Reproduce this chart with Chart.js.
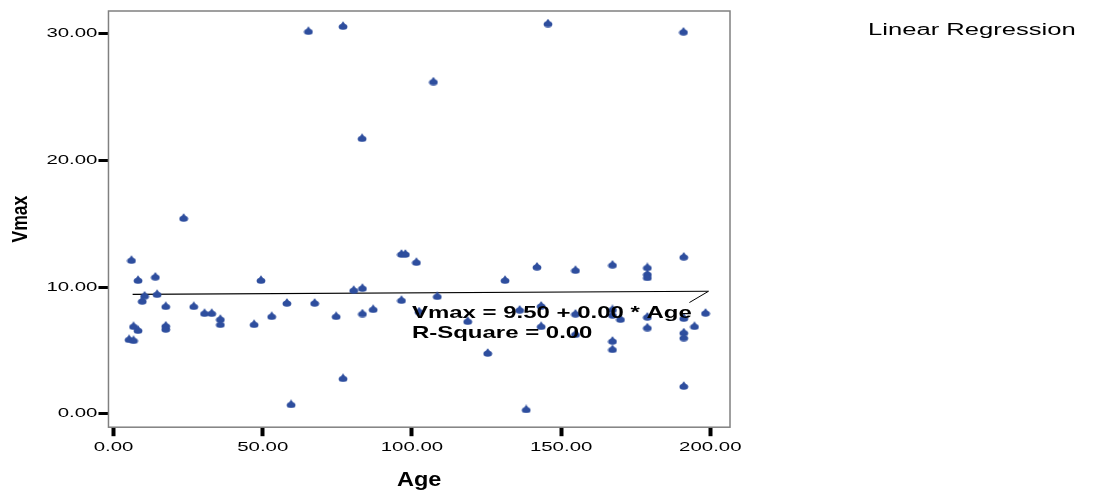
<!DOCTYPE html>
<html>
<head>
<meta charset="utf-8">
<script src="https://cdn.jsdelivr.net/npm/chart.js@4.4.1/dist/chart.umd.min.js"></script>
<style>
html,body{margin:0;padding:0;background:#fff;}
#wrap{width:1094px;height:493px;position:relative;}
</style>
</head>
<body>
<div id="wrap"><canvas id="c" width="1094" height="493"></canvas></div>
<script>
// ---- data ----
const ages = [6.0, 8.2, 14.0, 10.4, 9.6, 14.6, 17.5, 6.7, 8.2, 17.5, 17.5, 5.2, 6.7, 26.9, 30.5, 32.9, 35.8, 35.8, 47.1, 49.4,
  53.0, 58.1, 59.5, 67.4, 74.6, 76.9, 80.5, 83.4, 83.4, 87.0, 96.5, 97.8, 101.5, 96.5, 102.4, 108.5, 118.7, 125.4, 131.2, 136.1,
  138.3, 141.9, 143.3, 143.3, 154.8, 154.8, 154.8, 167.2, 167.2, 167.2, 169.9, 167.2, 167.2, 178.9, 178.9, 178.9, 178.9, 178.9,
  191.1, 191.1, 191.1, 191.1, 191.1, 194.7, 198.4, 65.3, 76.9, 83.3, 23.5, 107.2, 145.6, 191.0];
const vmax = [12.18, 10.6, 10.86, 9.36, 8.96, 9.49, 8.54, 6.96, 6.65, 7.0, 6.75, 5.93, 5.85, 8.54, 7.99, 7.99, 7.52, 7.12, 7.12, 10.6,
  7.75, 8.8, 0.79, 8.8, 7.75, 2.85, 9.81, 9.97, 7.96, 8.3, 12.66, 12.66, 12.02, 9.02, 8.12, 9.33, 7.36, 4.85, 10.6, 8.25,
  0.39, 11.65, 8.57, 6.96, 11.39, 7.94, 6.33, 11.81, 8.28, 7.86, 7.52, 5.8, 5.14, 11.6, 11.08, 10.81, 7.7, 6.85,
  12.44, 7.6, 6.46, 6.06, 2.24, 6.96, 8.01, 30.25, 30.65, 21.8, 15.5, 26.27, 30.85, 30.2];
const fitAges = [6.4, 199.4];
const fitVmax = [9.44, 9.68];
const leaderAges = [199.4, 193.0];
const leaderVmax = [9.68, 8.79];
const xTicks = [0, 50, 100, 150, 200];
const yTicks = [0, 10, 20, 30];
const equationLines = ['Vmax = 9.50 + 0.00 * Age', 'R-Square = 0.00'];
const legendText = 'Linear Regression';
const xTitle = 'Age';
const yTitle = 'Vmax';

// ---- horizontally stretched text (reference text is wide) ----
const canvas = document.getElementById('c');
const ctx = canvas.getContext('2d');
const nativeFill = CanvasRenderingContext2D.prototype.fillText;
const nativeMeasure = CanvasRenderingContext2D.prototype.measureText;
function stretchOf(t, font) {
  t = String(t);
  if (font.indexOf('bold') >= 0) {
    if (t === xTitle) return 1.12;
    if (t === yTitle) return 0.8;
    return 1.41;
  }
  if (t === legendText) return 1.6;
  return 1.57;
}
ctx.fillText = function (t, x, y, mw) {
  const s = stretchOf(t, this.font);
  this.save();
  this.translate(x, y);
  this.scale(s, 1);
  nativeFill.call(this, t, 0, 0);
  this.restore();
};
ctx.measureText = function (t) {
  const m = nativeMeasure.call(this, t);
  const s = stretchOf(t, this.font);
  return {
    width: m.width * s,
    actualBoundingBoxAscent: m.actualBoundingBoxAscent,
    actualBoundingBoxDescent: m.actualBoundingBoxDescent,
    actualBoundingBoxLeft: m.actualBoundingBoxLeft * s,
    actualBoundingBoxRight: m.actualBoundingBoxRight * s,
    fontBoundingBoxAscent: m.fontBoundingBoxAscent,
    fontBoundingBoxDescent: m.fontBoundingBoxDescent
  };
};

// ---- teardrop marker ----
const markerColor = '#2E4E9E';
const marker = document.createElement('canvas');
marker.width = 10; marker.height = 9;
(function () {
  const g = marker.getContext('2d');
  g.fillStyle = markerColor;
  g.beginPath(); g.ellipse(5, 5.7, 4.4, 3.0, 0, 0, Math.PI * 2); g.fill();
  g.beginPath(); g.moveTo(5, 0.3); g.lineTo(8.2, 4.4); g.lineTo(1.8, 4.4); g.closePath(); g.fill();
})();

const FONT = '"Liberation Sans", Arial, sans-serif';

const framePlugin = {
  id: 'frame',
  afterDatasetsDraw(chart) {
    const a = chart.chartArea, c = chart.ctx;
    c.save();
    c.strokeStyle = '#808080';
    c.lineWidth = 1.5;
    c.strokeRect(a.left, a.top, a.right - a.left, a.bottom - a.top);
    // equation text
    const xs = chart.scales.x, ys = chart.scales.y;
    c.fillStyle = '#000';
    c.font = 'bold 17px ' + FONT;
    c.textAlign = 'left';
    c.textBaseline = 'middle';
    const ex = xs.getPixelForValue(100.0);
    c.fillText(equationLines[0], ex, ys.getPixelForValue(7.91));
    c.fillText(equationLines[1], ex, ys.getPixelForValue(6.33));
    // legend / fit label
    c.font = '16px ' + FONT;
    c.fillText(legendText, 868, 30.5);
    c.restore();
  }
};

const scatterData = ages.map((a, i) => ({ x: a, y: vmax[i] }));
const fitData = fitAges.map((a, i) => ({ x: a, y: fitVmax[i] }));
const leaderData = leaderAges.map((a, i) => ({ x: a, y: leaderVmax[i] }));

new Chart(ctx, {
  type: 'scatter',
  data: {
    datasets: [
      { data: fitData, showLine: true, borderColor: '#000', borderWidth: 1.2, pointRadius: 0, order: 2 },
      { data: leaderData, showLine: true, borderColor: '#000', borderWidth: 1, pointRadius: 0, order: 3 },
      { data: scatterData, pointStyle: marker, pointRadius: 5, backgroundColor: markerColor, borderColor: markerColor, order: 1 }
    ]
  },
  options: {
    responsive: false,
    animation: false,
    events: [],
    layout: { padding: { top: 11, right: 364, left: 8, bottom: 0 } },
    plugins: { legend: { display: false }, tooltip: { enabled: false } },
    scales: {
      x: {
        type: 'linear', min: -1.7, max: 206.6,
        afterBuildTicks: s => { s.ticks = xTicks.map(v => ({ value: v })); },
        ticks: { callback: v => v.toFixed(2), color: '#000', font: { family: FONT, size: 13 }, padding: 3, maxRotation: 0, autoSkip: false },
        grid: { drawOnChartArea: false, drawTicks: true, tickLength: 9, tickWidth: 4, tickColor: '#000' },
        border: { display: false },
        title: { display: true, text: xTitle, color: '#000', font: { family: FONT, size: 21, weight: 'bold' }, padding: { top: 10, bottom: 0 } }
      },
      y: {
        type: 'linear', min: -1.05, max: 31.8,
        afterBuildTicks: s => { s.ticks = yTicks.map(v => ({ value: v })); },
        ticks: { callback: v => v.toFixed(2), color: '#000', font: { family: FONT, size: 13 }, padding: 1 },
        grid: { drawOnChartArea: false, drawTicks: true, tickLength: 10, tickWidth: 3, tickColor: '#000' },
        border: { display: false },
        title: { display: true, text: yTitle, color: '#000', font: { family: FONT, size: 22, weight: 'bold' }, padding: { top: 0, bottom: 11 } }
      }
    }
  },
  plugins: [framePlugin]
});
</script>
</body>
</html>
